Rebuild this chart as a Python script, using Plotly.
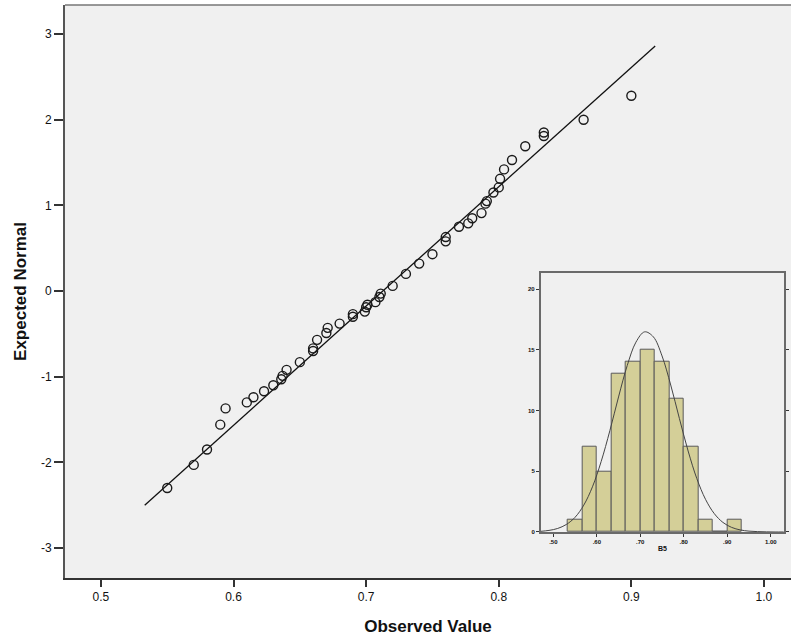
import plotly.graph_objects as go

# ---- Q-Q plot data (observed value vs expected normal) ----
qq_observed = [0.550, 0.570, 0.580, 0.590, 0.594, 0.610, 0.615, 0.623, 0.630, 0.636,
               0.637, 0.640, 0.650, 0.660, 0.660, 0.663, 0.670, 0.671, 0.680, 0.690,
               0.690, 0.699, 0.700, 0.701, 0.707, 0.710, 0.711, 0.720, 0.730, 0.740,
               0.750, 0.760, 0.760, 0.770, 0.777, 0.780, 0.787, 0.790, 0.791, 0.796,
               0.800, 0.801, 0.804, 0.810, 0.820, 0.834, 0.834, 0.864, 0.900]
qq_expected = [-2.30, -2.03, -1.85, -1.56, -1.37, -1.30, -1.24, -1.17, -1.10, -1.03,
               -0.99, -0.92, -0.83, -0.70, -0.67, -0.57, -0.49, -0.43, -0.38, -0.30,
               -0.27, -0.24, -0.19, -0.16, -0.13, -0.07, -0.03, 0.06, 0.20, 0.32,
               0.43, 0.58, 0.63, 0.75, 0.79, 0.85, 0.91, 1.02, 1.05, 1.15,
               1.21, 1.31, 1.42, 1.53, 1.69, 1.81, 1.85, 2.00, 2.28]

ref_line_x = [0.533, 0.918]
ref_line_y = [-2.50, 2.86]

x_ticks = [0.5, 0.6, 0.7, 0.8, 0.9, 1.0]
x_tick_labels = ["0.5", "0.6", "0.7", "0.8", "0.9", "1.0"]
y_ticks = [-3, -2, -1, 0, 1, 2, 3]
y_tick_labels = ["-3", "-2", "-1", "0", "1", "2", "3"]

# ---- Inset histogram data ----
hist_centers = [0.5500, 0.5833, 0.6167, 0.6500, 0.6833, 0.7167,
                0.7500, 0.7833, 0.8167, 0.8500, 0.8833, 0.9167]
hist_counts = [1, 7, 5, 13, 14, 15, 14, 11, 7, 1, 0, 1]
hist_width = 0.03333

curve_x = [0.47, 0.49, 0.51, 0.53, 0.55, 0.57, 0.59, 0.61, 0.63, 0.65, 0.67, 0.69,
           0.71, 0.73, 0.75, 0.77, 0.79, 0.81, 0.83, 0.85, 0.87, 0.89, 0.91, 0.93,
           0.95, 0.97, 0.99, 1.01, 1.03]
curve_y = [0.05, 0.13, 0.29, 0.62, 1.21, 2.21, 3.72, 5.80, 8.34, 11.12, 13.71, 15.63,
           16.48, 16.07, 14.50, 12.10, 9.34, 6.67, 4.40, 2.69, 1.52, 0.79, 0.38, 0.17,
           0.07, 0.03, 0.01, 0.00, 0.00]

inset_x_ticks = [0.5, 0.6, 0.7, 0.8, 0.9, 1.0]
inset_x_labels = [".50", ".60", ".70", ".80", ".90", "1.00"]
inset_y_ticks = [0, 5, 10, 15, 20]
inset_y_labels = ["0", "5", "10", "15", "20"]
inset_title = "B5"

fig = go.Figure()

fig.add_trace(go.Scatter(
    x=ref_line_x, y=ref_line_y, mode="lines",
    line=dict(color="#111111", width=1.3),
    xaxis="x", yaxis="y", showlegend=False, hoverinfo="skip"))

fig.add_trace(go.Scatter(
    x=qq_observed, y=qq_expected, mode="markers",
    marker=dict(symbol="circle-open", size=9, color="#1a1a1a",
                line=dict(width=1.4, color="#1a1a1a")),
    xaxis="x", yaxis="y", showlegend=False))

fig.add_trace(go.Bar(
    x=hist_centers, y=hist_counts, width=hist_width,
    marker=dict(color="#d4cf98", line=dict(color="#5a5a5a", width=1)),
    xaxis="x2", yaxis="y2", showlegend=False))

fig.add_trace(go.Scatter(
    x=curve_x, y=curve_y, mode="lines", line=dict(color="#444444", width=1, shape="spline"),
    xaxis="x2", yaxis="y2", showlegend=False, hoverinfo="skip"))

font_family = "Liberation Sans, Arial, sans-serif"

fig.update_layout(
    width=791, height=642,
    margin=dict(l=65, r=0, t=5, b=64),
    paper_bgcolor="white",
    plot_bgcolor="#f0f0f0",
    font=dict(family=font_family, color="#111111"),
    bargap=0,
    xaxis=dict(
        domain=[0, 1], range=[0.4729, 1.0204],
        tickvals=x_ticks, ticktext=x_tick_labels,
        ticks="outside", ticklen=7, tickwidth=1.5, tickcolor="#333333",
        tickfont=dict(size=12, color="#111111"),
        showline=True, linecolor="#333333", linewidth=2,
        showgrid=False, zeroline=False,
        title=dict(text="<b>Observed Value</b>", font=dict(size=17), standoff=17),
    ),
    yaxis=dict(
        domain=[0, 1], range=[-3.350, 3.339],
        tickvals=y_ticks, ticktext=y_tick_labels,
        ticks="outside", ticklen=9, tickwidth=1.5, tickcolor="#333333",
        tickfont=dict(size=12, color="#111111"),
        showline=True, linecolor="#555555", linewidth=2,
        showgrid=False, zeroline=False,
        title=dict(text="<b>Expected Normal</b>", font=dict(size=17), standoff=10),
    ),
    xaxis2=dict(
        domain=[0.6552, 0.9904], anchor="y2", range=[0.4709, 1.0306],
        tickvals=inset_x_ticks, ticktext=["<b>" + t + "</b>" for t in inset_x_labels],
        ticks="outside", ticklen=3, tickwidth=1, tickcolor="#333333",
        tickfont=dict(size=6, color="#111111"),
        showline=True, linecolor="#6a6a6a", linewidth=1.5, mirror=True,
        showgrid=False, zeroline=False,
        title=dict(text="<b>" + inset_title + "</b>", font=dict(size=7, color="#111111"), standoff=2),
    ),
    yaxis2=dict(
        domain=[0.0803, 0.5328], anchor="x2", range=[0, 21.35],
        tickvals=inset_y_ticks, ticktext=["<b>" + t + "</b>" for t in inset_y_labels],
        ticks="outside", ticklen=3, tickwidth=1, tickcolor="#333333",
        tickfont=dict(size=6, color="#111111"),
        showline=True, linecolor="#6a6a6a", linewidth=1.5, mirror="ticks",
        showgrid=False, zeroline=False,
    ),
    shapes=[dict(type="line", xref="paper", yref="paper", x0=0, x1=1, y0=1, y1=1,
                 line=dict(color="#777777", width=1.5))],
)

fig.write_html("out.html")
